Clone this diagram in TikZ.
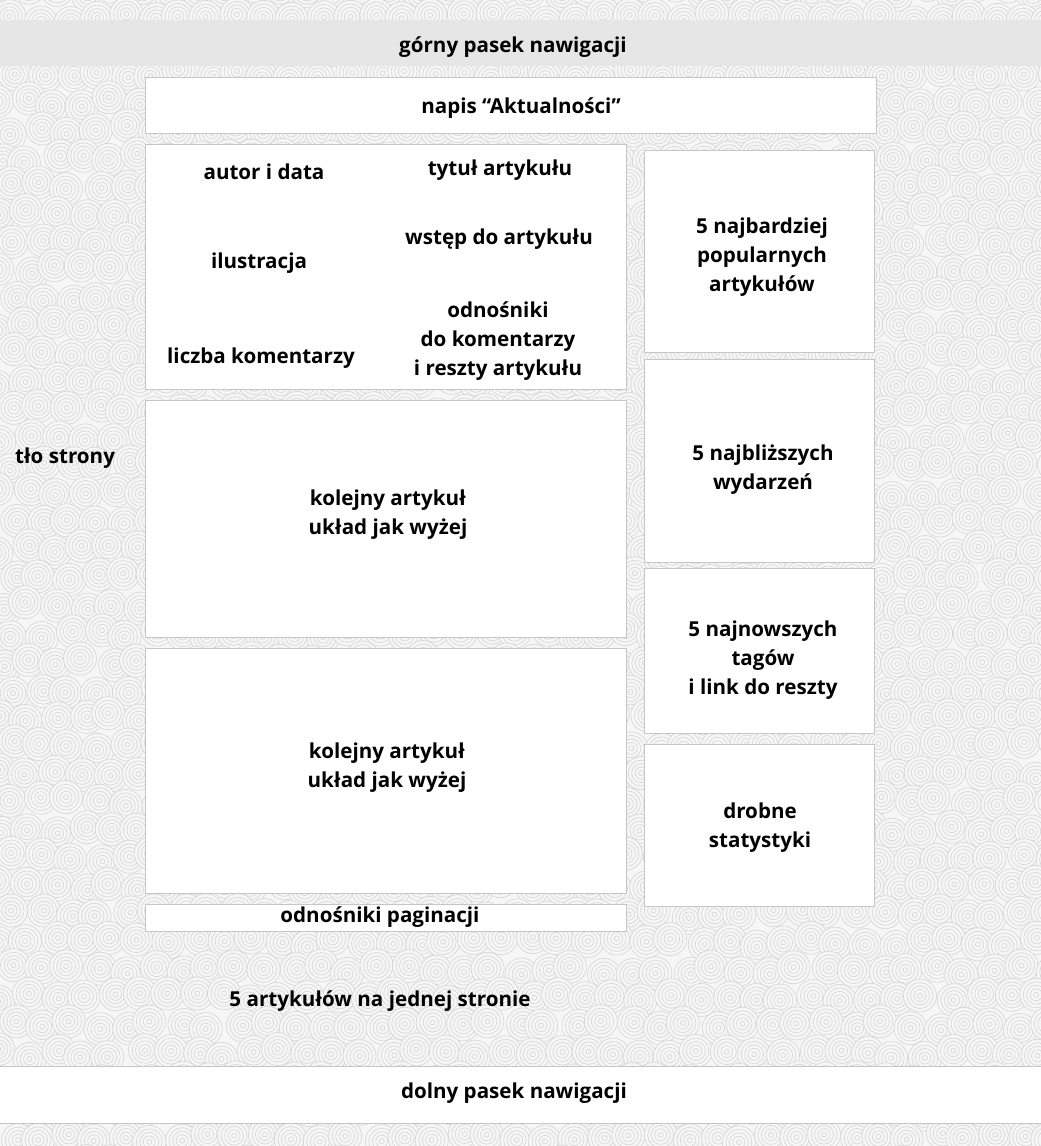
\documentclass[tikz,border=0pt]{standalone}
\usepackage{fontspec}
\setmainfont{Open Sans}
\definecolor{patbg}{HTML}{F6F6F6}
\definecolor{patline}{HTML}{D8D8D8}
\definecolor{boxline}{HTML}{C6C6C6}
\definecolor{barfill}{HTML}{E6E6E6}
\tikzset{
  wbox/.style={draw=boxline, fill=white, line width=1pt, inner sep=0pt},
  lbl/.style={align=center, inner sep=0pt, font=\fontsize{20.6}{29}\selectfont\bfseries, text=black, yshift=-2.5pt},
  ringline/.style={draw=patline, fill=patbg, line width=0.7pt},
}
\begin{document}
\begin{tikzpicture}[x=1pt,y=-1pt]
\useasboundingbox (0,0) rectangle (1041,1146);
% background pattern (only where visible)
\begin{scope}[ringline]
\clip (0,0) rectangle (1041,1146);
\fill[patbg] (0,0) rectangle (1041,1146);
\pgfmathsetseed{7}
\foreach \j in {0,...,42}{
  \foreach \i in {0,...,38}{
    \pgfmathsetmacro{\cx}{\i*28+mod(\j,2)*14+rand*5}
    \pgfmathsetmacro{\cy}{\j*28+rand*5-10}
    \pgfmathtruncatemacro{\vis}{(\cx<165)||(\cx>856)||(\cy<97)||(\cy>911)||(abs(\cx-635)<28)||(abs(\cy-138.5)<23)||(abs(\cy-394.5)<23)||(abs(\cy-642.5)<23)||(abs(\cy-898.5)<23)||((\cx>620)&&((abs(\cy-355.5)<23)||(abs(\cy-565)<23)||(abs(\cy-738.5)<23)))}
    \ifnum\vis=1
      \filldraw (\cx,\cy) circle (16.5pt) circle (13pt) circle (9.5pt) circle (6pt) circle (2.5pt);
    \fi
  }
}
\end{scope}
% bars
\node[fill=barfill, inner sep=0pt, minimum width=1041pt, minimum height=46pt] (topbar) at (520.5,43) {};
\node[lbl] (toptxt) at (513,45) {górny pasek nawigacji};
\node[wbox, minimum width=1045pt, minimum height=57pt] (botbar) at (520.5,1094.5) {};
\node[lbl] (bottxt) at (514,1091) {dolny pasek nawigacji};
% header box
\node[wbox, minimum width=731pt, minimum height=56pt] (napis) at (510.5,105) {};
\node[lbl] (napistxt) at (521,106) {napis “Aktualności”};
% articles
\node[wbox, minimum width=481pt, minimum height=245pt] (art1) at (385.5,266.5) {};
\node[wbox, minimum width=481pt, minimum height=237pt] (art2) at (385.5,518.5) {};
\node[wbox, minimum width=481pt, minimum height=245pt] (art3) at (385.5,770.5) {};
\node[wbox, minimum width=481pt, minimum height=27pt] (pag) at (385.5,917.5) {};
% right column
\node[wbox, minimum width=230pt, minimum height=202pt] (pop) at (759,251) {};
\node[wbox, minimum width=230pt, minimum height=203pt] (evt) at (759,460.5) {};
\node[wbox, minimum width=230pt, minimum height=165pt] (tags) at (759,650.5) {};
\node[wbox, minimum width=230pt, minimum height=162pt] (stat) at (759,825) {};
% article 1 contents
\node[lbl] (autor) at (264,169) {autor i data};
\node[lbl] (tytul) at (500,168) {tytuł artykułu};
\node[lbl] (ilu) at (259,261) {ilustracja};
\node[lbl] (wstep) at (499,237) {wstęp do artykułu};
\node[lbl] (liczba) at (261,356) {liczba komentarzy};
\node[lbl] (odn) at (498,339) {odnośniki\\do komentarzy\\i reszty artykułu};
% other texts
\node[lbl] (tlo) at (65,456) {tło strony};
\node[lbl] (kol1) at (388,512.5) {kolejny artykuł\\układ jak wyżej};
\node[lbl] (kol2) at (387,765.5) {kolejny artykuł\\układ jak wyżej};
\node[lbl] (pagtxt) at (380,915) {odnośniki paginacji};
\node[lbl] (piec) at (380,999) {5 artykułów na jednej stronie};
\node[lbl] (poptxt) at (762,255) {5 najbardziej\\popularnych\\artykułów};
\node[lbl] (evttxt) at (763,467.5) {5 najbliższych\\wydarzeń};
\node[lbl] (tagtxt) at (763,657.5) {5 najnowszych\\tagów\\i link do reszty};
\node[lbl] (stattxt) at (760,825.5) {drobne\\statystyki};
\end{tikzpicture}
\end{document}
